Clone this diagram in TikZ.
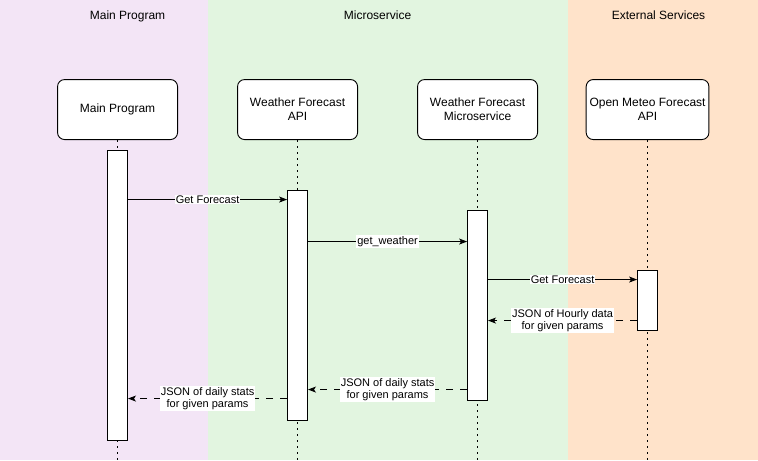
\documentclass[tikz,border=0pt]{standalone}
\usepackage{fontspec}
\setmainfont{Liberation Sans}
\usetikzlibrary{arrows.meta, positioning}
\definecolor{laneMain}{HTML}{F3E5F6}
\definecolor{laneMicro}{HTML}{E2F5E0}
\definecolor{laneExt}{HTML}{FFE3CA}

\begin{document}
\begin{tikzpicture}[x=1pt, y=-1pt, line width=0.9pt,
    lane/.style = {anchor=north west, inner sep=0pt, minimum height=460pt},
    laneTitle/.style = {anchor=base, font=\fontsize{12}{14}\selectfont},
    header/.style = {draw, fill=white, rounded corners=7pt, align=center,
      minimum width=120pt, minimum height=60pt, font=\fontsize{12}{14}\selectfont},
    lifeline/.style = {line width=1.5pt, dash pattern=on 1.5pt off 4.5pt},
    bar/.style = {draw, fill=white, anchor=north, inner sep=0pt, minimum width=20pt},
    msg/.style = {-{Stealth[length=8pt,width=6pt,inset=2pt]}},
    ret/.style = {msg, dash pattern=on 7pt off 7pt},
    msgLabel/.style = {fill=white, inner sep=1pt, align=center,
      font=\fontsize{11}{12.5}\selectfont}
  ]

    % swim lanes
    \node[lane, fill=laneMain, minimum width=208pt] (mainLane) at (0,0) {};
    \node[lane, fill=laneMicro, minimum width=360pt] (microLane) at (208,0) {};
    \node[lane, fill=laneExt, minimum width=190pt] (extLane) at (568,0) {};
    \node[laneTitle] (mainTitle) at (128,20) {Main Program};
    \node[laneTitle] (microTitle) at (378,20) {Microservice};
    \node[laneTitle] (extTitle) at (659,20) {External Services};

    % participants
    \node[header] (mainHead) at (118,110) {Main Program};
    \node[header] (apiHead) at (298,110) {Weather Forecast\\API};
    \node[header] (msHead) at (478,110) {Weather Forecast\\Microservice};
    \node[header] (omHead) at (648,110) {Open Meteo Forecast\\API};

    \coordinate (mainEnd) at (118,460);
    \coordinate (apiEnd) at (298,460);
    \coordinate (msEnd) at (478,460);
    \coordinate (omEnd) at (648,460);
    \draw[lifeline] (mainHead.south) -- (mainEnd);
    \draw[lifeline] (apiHead.south) -- (apiEnd);
    \draw[lifeline] (msHead.south) -- (msEnd);
    \draw[lifeline] (omHead.south) -- (omEnd);

    % activations
    \node[bar, minimum height=290pt] (mainBar) at (118,150) {};
    \node[bar, minimum height=230pt] (apiBar) at (298,190) {};
    \node[bar, minimum height=190pt] (msBar) at (478,210) {};
    \node[bar, minimum height=60pt] (omBar) at (648,270) {};

    % messages
    \draw[msg] ([yshift=-50pt]mainBar.north east) -- ([yshift=-10pt]apiBar.north west)
      node[msgLabel, midway] (getForecastA) {Get Forecast};
    \draw[msg] ([yshift=-52pt]apiBar.north east) -- ([yshift=-32pt]msBar.north west)
      node[msgLabel, midway] (getWeather) {get\_weather};
    \draw[msg] ([yshift=-70pt]msBar.north east) -- ([yshift=-10pt]omBar.north west)
      node[msgLabel, midway] (getForecastB) {Get Forecast};
    \draw[ret] ([yshift=-51pt]omBar.north west) -- ([yshift=-111pt]msBar.north east)
      node[msgLabel, midway] (hourlyJson) {JSON of Hourly data\\for given params};
    \draw[ret] ([yshift=-180pt]msBar.north west) -- ([yshift=-200pt]apiBar.north east)
      node[msgLabel, midway] (dailyJsonA) {JSON of daily stats\\for given params};
    \draw[ret] ([yshift=-209pt]apiBar.north west) -- ([yshift=-249pt]mainBar.north east)
      node[msgLabel, midway] (dailyJsonB) {JSON of daily stats\\for given params};
\end{tikzpicture}
\end{document}
